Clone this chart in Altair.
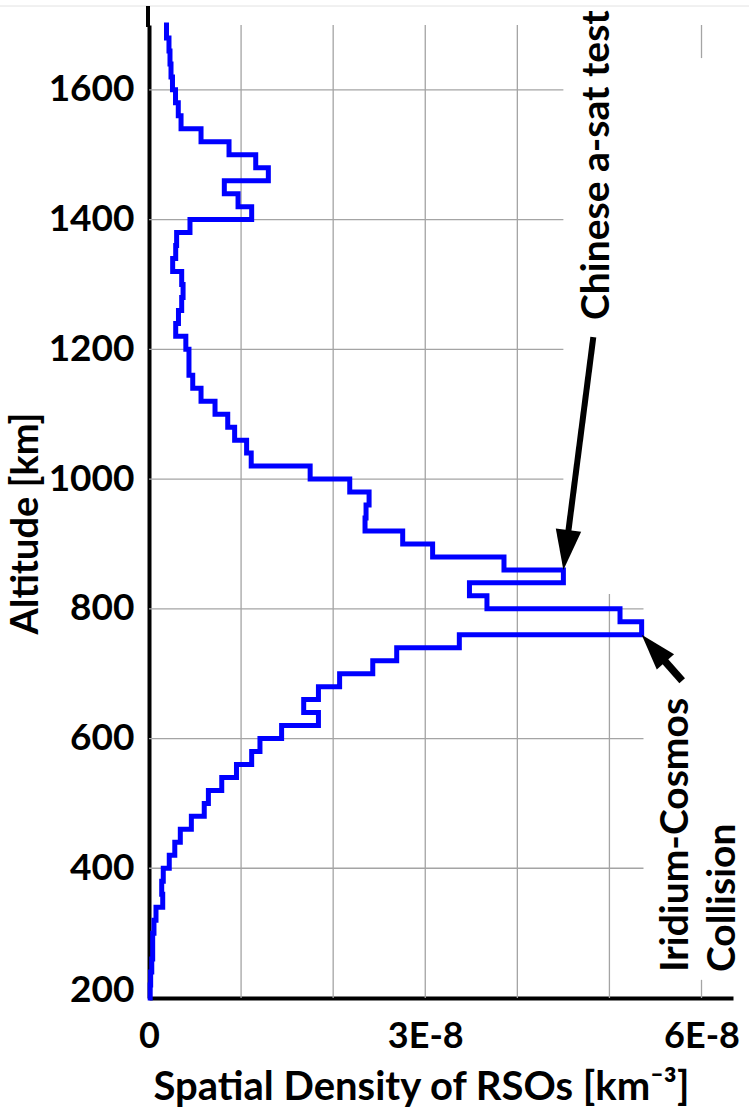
import math

import altair as alt
import pandas as pd

# Altitude bins: bottom edge of each 20 km shell
BIN_KM = 20
bin_bottom_km = list(range(200, 1700, BIN_KM))  # 200 ... 1680

# Spatial density of resident space objects per shell, in units of 1E-8 km^-3
density_e8 = [
    0.013, 0.018, 0.030, 0.040, 0.040, 0.054, 0.076, 0.149, 0.138, 0.155,  # 200-380
    0.220, 0.280, 0.340, 0.460, 0.600, 0.645, 0.790, 0.950, 1.115, 1.205,  # 400-580
    1.440, 1.840, 1.680, 1.840, 2.070, 2.430, 2.690, 3.370, 5.350, 5.115,  # 600-780
    3.670, 3.480, 4.500, 3.855, 3.080, 2.755, 2.346, 2.357, 2.390, 2.180,  # 800-980
    1.750, 1.110, 1.060, 0.930, 0.855, 0.717, 0.565, 0.475, 0.434, 0.434,  # 1000-1180
    0.400, 0.290, 0.320, 0.355, 0.370, 0.355, 0.257, 0.290, 0.300, 0.445,  # 1200-1380
    1.115, 0.967, 0.818, 1.296, 1.159, 0.869, 0.565, 0.348, 0.318, 0.288,  # 1400-1580
    0.255, 0.239, 0.228, 0.217, 0.190,                                      # 1600-1680
]

# Axis ticks
x_grid = [1e-8, 2e-8, 3e-8, 4e-8, 5e-8, 6e-8]
x_ticks = [0, 3e-8, 6e-8]
x_labels = {0: "0", 3: "3E-8", 6: "6E-8"}
y_ticks = [200, 400, 600, 800, 1000, 1200, 1400, 1600]
y_grid = [400, 600, 800, 1000, 1200, 1400, 1600]

# Annotation text
chinese_text = "Chinese a-sat test"
iridium_text = ["Iridium-Cosmos", "Collision"]

FONT = "Lato"
X_MAX = 6.342e-8
ALT_MIN, ALT_MAX = 200, 1700
PLOT_W, PLOT_H = 584, 973
GRID_COLOR = "#a4a4a4"

# ---------------------------------------------------------------- data tables
rows = []
for i, (lo, d) in enumerate(zip(bin_bottom_km, density_e8)):
    rows.append({"seq": 2 * i, "altitude": lo, "density": d * 1e-8})
    rows.append({"seq": 2 * i + 1, "altitude": lo + BIN_KM, "density": d * 1e-8})
profile = pd.DataFrame(rows)

# Clear panels kept free of grid lines behind the annotations:
# (density from, density to, altitude from, altitude to)
panels = [
    (4.50e-8, 5.37e-8, 823, ALT_MAX),
    (5.37e-8, X_MAX, 228, 1649),
]

grid_rows = []
for a in y_grid:
    end = min([p[0] for p in panels if p[2] <= a <= p[3]] + [X_MAX])
    grid_rows.append({"x": 0, "x_end": end, "y": a, "y_end": a})
for v in x_grid:
    segs = [(ALT_MIN, ALT_MAX)]
    for p in panels:
        if p[0] <= v <= p[1]:
            cut = []
            for lo, hi in segs:
                if p[2] > lo:
                    cut.append((lo, min(hi, p[2])))
                if p[3] < hi:
                    cut.append((max(lo, p[3]), hi))
            segs = cut
    for lo, hi in segs:
        grid_rows.append({"x": v, "x_end": v, "y": lo, "y_end": hi})
grid = pd.DataFrame(grid_rows)

px_x = PLOT_W / X_MAX
px_y = PLOT_H / (ALT_MAX - ALT_MIN)


def arrow(tail, tip, head_len, width):
    dx = (tip[0] - tail[0]) * px_x
    dy = -(tip[1] - tail[1]) * px_y
    length = math.hypot(dx, dy)
    ux, uy = dx / length, dy / length
    angle = math.degrees(math.atan2(ux, -uy)) % 360
    back = head_len * 0.6
    neck = (tip[0] - ux * back / px_x, tip[1] + uy * back / px_y)
    return {
        "x": tail[0], "y": tail[1],
        "x_end": neck[0], "y_end": neck[1],
        "tip_x": tip[0], "tip_alt": tip[1],
        "angle": angle, "size": head_len ** 2, "width": width,
    }


arrows = pd.DataFrame([
    arrow((4.825e-8, 1219), (4.50e-8, 860), 40, 6.0),
    arrow((5.79e-8, 689), (5.35e-8, 760), 36, 7.5),
])

chinese_df = pd.DataFrame({"label": [chinese_text], "density": [4.865e-8], "altitude": [1484]})
iridium_df = pd.DataFrame({"label": iridium_text, "density": [5.723e-8, 6.234e-8], "altitude": [240, 240]})

# ---------------------------------------------------------------- scales / axes
label_expr = " : ".join(
    f"round(datum.value * 1e8) == {k} ? '{v}'" for k, v in x_labels.items()
) + " : ''"

x_scale = alt.Scale(domain=[0, X_MAX], nice=False, zero=True)
y_scale = alt.Scale(domain=[ALT_MIN, ALT_MAX], nice=False, zero=False)

x_axis = alt.Axis(
    values=x_ticks, labelExpr=label_expr, title="Spatial Density of RSOs  [km⁻³]",
    grid=False, domainColor="black", domainWidth=4, ticks=False, tickSize=0,
    labelFont=FONT, labelFontWeight="bold", labelFontSize=36, labelColor="black",
    labelPadding=21, labelFlush=False, labelOverlap=False,
    titleFont=FONT, titleFontWeight="bold", titleFontSize=40, titleColor="black",
    titleX=272, titleY=101, titleBaseline="alphabetic", titleAlign="center",
)
y_axis = alt.Axis(
    values=y_ticks, format="d", title="Altitude [km]",
    grid=False, domainColor="black", domainWidth=4, ticks=False, tickSize=0,
    labelFont=FONT, labelFontWeight="bold", labelFontSize=37, labelColor="black",
    labelPadding=15, labelFlush=True, labelFlushOffset=11, labelOverlap=False,
    titleFont=FONT, titleFontWeight="bold", titleFontSize=38, titleColor="black",
    titleAngle=270, titleX=-123, titleY=498, titleBaseline="middle", titleAlign="center",
)


def X(field):
    return alt.X(field, type="quantitative", scale=x_scale, axis=x_axis)


def Y(field):
    return alt.Y(field, type="quantitative", scale=y_scale, axis=y_axis)


# ---------------------------------------------------------------- layers
grid_layer = alt.Chart(grid).mark_rule(color=GRID_COLOR, strokeWidth=1.3).encode(
    x=X("x"), x2="x_end", y=Y("y"), y2="y_end"
)

profile_layer = alt.Chart(profile).mark_line(
    color="#0000ff", strokeWidth=5, strokeJoin="miter", strokeCap="square"
).encode(x=X("density"), y=Y("altitude"), order="seq:Q")

one = pd.DataFrame({"k": [0]})
axis_top = alt.Chart(one).mark_rule(color="black", strokeWidth=4).encode(
    x=alt.value(-1), y=alt.value(-19), y2=alt.value(2)
)
frame_top = alt.Chart(one).mark_rule(color="#e2e2e2", strokeWidth=1).encode(
    x=alt.value(-149), x2=alt.value(600), y=alt.value(-19)
)

shaft_layer = alt.Chart(arrows).mark_rule(color="black").encode(
    x=X("x"), y=Y("y"), x2="x_end", y2="y_end",
    strokeWidth=alt.StrokeWidth("width:Q", scale=None),
)
head_layer = alt.Chart(arrows).mark_point(
    shape="M0,0L0.64,2L-0.64,2Z", filled=True, color="black", opacity=1, strokeWidth=0
).encode(
    x=X("tip_x"), y=Y("tip_alt"),
    angle=alt.Angle("angle:Q", scale=None),
    size=alt.Size("size:Q", scale=None),
)

chinese_layer = alt.Chart(chinese_df).mark_text(
    angle=270, align="center", baseline="middle",
    font=FONT, fontSize=39, fontWeight="bold", color="black",
).encode(x=X("density"), y=Y("altitude"), text="label:N")

iridium_layer = alt.Chart(iridium_df).mark_text(
    angle=270, align="left", baseline="middle",
    font=FONT, fontSize=39, fontWeight="bold", color="black",
).encode(x=X("density"), y=Y("altitude"), text="label:N")

chart = alt.layer(
    grid_layer, profile_layer, frame_top, axis_top,
    shaft_layer, head_layer, chinese_layer, iridium_layer,
).properties(
    width=PLOT_W, height=PLOT_H,
    padding={"left": 149, "top": 25, "right": 16, "bottom": 111},
    autosize=alt.AutoSizeParams(type="none"),
    background="white",
).configure_view(strokeWidth=0)

chart.save("out.html", embed_options={"renderer": "svg", "actions": False})
